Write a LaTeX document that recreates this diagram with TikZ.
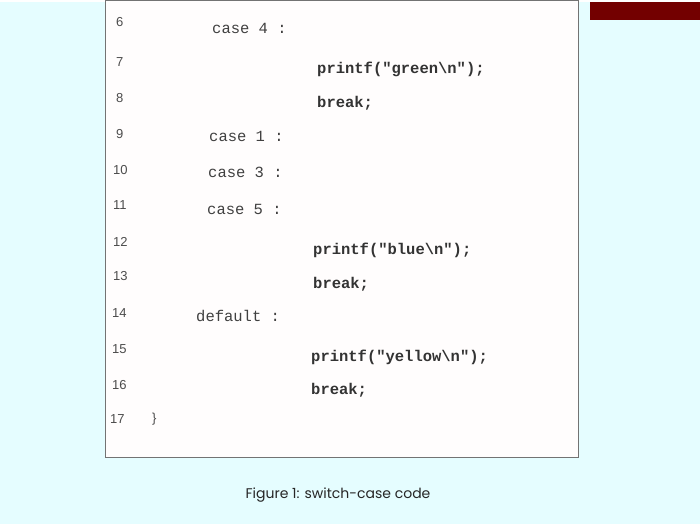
\documentclass[tikz,border=0pt]{standalone}
\usepackage{fontspec}
\setmonofont{Liberation Mono}
\setsansfont{Liberation Sans}
\newfontfamily\capfont{Poppins}
\begin{document}
\begin{tikzpicture}[x=1pt,y=-1pt,
  num/.style={font=\sffamily\fontsize{13}{13}\selectfont, text=black!70, anchor=west, inner sep=0},
  code/.style={font=\ttfamily\fontsize{15.5}{15.5}\selectfont, text=black!75, anchor=west, inner sep=0},
  bcode/.style={code, font=\ttfamily\bfseries\fontsize{15.5}{15.5}\selectfont, text=black!80}]
\fill[blue!8!cyan!10!white] (0,0) rectangle (700,522);
\fill[red!45!black] (590,0) rectangle (700,18);
\fill[white!97!pink, draw=black!55, line width=0.8pt] (105,-2) rectangle (578,455);
\node[num] (n6) at (116,20) {6};
\node[num] (n7) at (116,60) {7};
\node[num] (n8) at (116,96) {8};
\node[num] (n9) at (116,132) {9};
\node[num] (n10) at (113,168) {10};
\node[num] (n11) at (113,203) {11};
\node[num] (n12) at (113,240) {12};
\node[num] (n13) at (113,274) {13};
\node[num] (n14) at (112,311) {14};
\node[num] (n15) at (112,347) {15};
\node[num] (n16) at (112,383) {16};
\node[num] (n17) at (110,417) {17};
\node[code] (c6) at (212,26) {case 4 :};
\node[bcode] (c7) at (317,67) {printf("green\textbackslash n");};
\node[bcode] (c8) at (317,101) {break;};
\node[code] (c9) at (209,134) {case 1 :};
\node[code] (c10) at (208,170) {case 3 :};
\node[code] (c11) at (207,207) {case 5 :};
\node[bcode] (c12) at (313,248) {printf("blue\textbackslash n");};
\node[bcode] (c13) at (313,282) {break;};
\node[code] (c14) at (196,314) {default :};
\node[bcode] (c15) at (311,355) {printf("yellow\textbackslash n");};
\node[bcode] (c16) at (311,388) {break;};
\node[num] (c17) at (152,417) {\}};
\node[font=\capfont\fontsize{14}{14}\selectfont, text=black!85] (cap) at (338,493) {Figure 1: switch-case code};
\end{tikzpicture}
\end{document}
